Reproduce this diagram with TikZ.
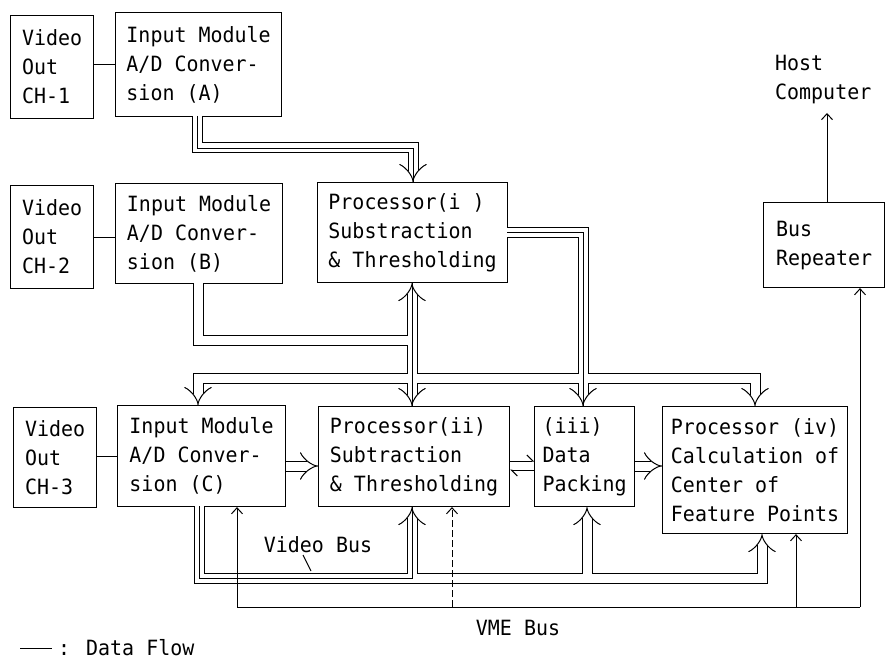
\documentclass[tikz,border=0pt]{standalone}
\usepackage{fontspec}
\newfontfamily\dfont[FakeStretch=0.95]{DejaVu Sans Mono}
\usetikzlibrary{arrows.meta}
\begin{document}
\begin{tikzpicture}[x=1pt,y=-1pt,
  box/.style={draw, line width=1.1pt, anchor=north west, align=left, inner sep=0pt,
    font=\dfont\fontsize{21}{29}\selectfont},
  lbl/.style={inner sep=0pt, align=left, font=\dfont\fontsize{21}{29}\selectfont},
  net/.style={line width=11pt, line join=miter, line cap=butt},
  netcore/.style={line width=9pt, white, line join=miter, line cap=butt},
  dtip/.style={double, double distance=9pt, line width=1pt, -{Implies}},
  harp/.style={line width=1pt, -{Straight Barb[harpoon,length=6pt,width=12pt]}},
  mid/.style={line width=0.9pt},
  sline/.style={line width=1pt},
  sarr/.style={line width=1pt, -{Straight Barb[length=6pt,width=11pt]}}
]
\useasboundingbox (0,0) rectangle (886,666);

% boxes
\node[box, minimum width=83pt, minimum height=103pt] (ch1) at (10,15) {Video\\Out\\CH-1};
\node[box, minimum width=166pt, minimum height=104pt] (inA) at (115,12) {Input Module\\A/D Conver-\\sion (A)};
\node[box, minimum width=83pt, minimum height=103pt] (ch2) at (10,185) {Video\\Out\\CH-2};
\node[box, minimum width=167pt, minimum height=100pt] (inB) at (115,183) {Input Module\\A/D Conver-\\sion (B)};
\node[box, minimum width=190pt, minimum height=100pt] (p1) at (317,182) {Processor(i )\\Substraction\\\& Thresholding};
\node[box, minimum width=121pt, minimum height=85pt] (br) at (763,202) {Bus\\Repeater};
\node[box, minimum width=83pt, minimum height=100pt] (ch3) at (13,407) {Video\\Out\\CH-3};
\node[box, minimum width=168pt, minimum height=101pt] (inC) at (117,405) {Input Module\\A/D Conver-\\sion (C)};
\node[box, minimum width=191pt, minimum height=100pt] (p2) at (318,406) {Processor(ii)\\Subtraction\\\& Thresholding};
\node[box, minimum width=100pt, minimum height=100pt] (dp) at (534,406) {(iii)\\Data\\Packing};
\node[box, minimum width=185pt, minimum height=127pt] (p4) at (662,406) {Processor (iv)\\Calculation of\\Center of\\Feature Points};

\node[lbl, anchor=north west] (host) at (775,55) {Host\\Computer};

% video out links
\draw[sline] (ch1.east |- 0,65) -- (inA.west |- 0,65);
\draw[sline] (ch2.east |- 0,237) -- (inB.west |- 0,237);
\draw[sline] (ch3.east |- 0,456) -- (inC.west |- 0,456);

% data flow networks
\newcommand\pathInA{(197,116) -- (197,148) -- (413,148) -- (413,166)}
\newcommand\pathNetA{(198,283) -- (198,340) -- (412,340) (412,298) -- (412,390) (198,390) -- (198,378) -- (755,378) -- (755,390) (507,232) -- (583,232) -- (583,390)}
\newcommand\pathNetB{(199,506) -- (199,578) -- (762,578) -- (762,549) (412,578) -- (412,522) (587,578) -- (587,522)}
\draw[net] \pathInA; \draw[netcore] \pathInA;
\draw[net] \pathNetA; \draw[netcore] \pathNetA;
\draw[net] \pathNetB; \draw[netcore] \pathNetB;

\draw[dtip] (413,166) -- (p1.north -| 413,0);
\draw[dtip] (412,298) -- (p1.south -| 412,0);
\draw[dtip] (412,390) -- (p2.north -| 412,0);
\draw[dtip] (198,390) -- (inC.north -| 198,0);
\draw[dtip] (755,390) -- (p4.north -| 755,0);
\draw[dtip] (583,390) -- (dp.north -| 583,0);
\draw[dtip] (412,522) -- (p2.south -| 412,0);
\draw[dtip] (587,522) -- (dp.south -| 587,0);
\draw[dtip] (762,549) -- (p4.south -| 762,0);

\draw[dtip] (inC.east |- 0,466) -- (p2.west |- 0,466);
\draw[harp] (p2.east |- 0,461) -- (dp.west |- 0,461);
\draw[harp] (dp.west |- 0,470) -- (p2.east |- 0,470);
\draw[dtip] (dp.east |- 0,466) -- (p4.west |- 0,466);

% middle lines
\draw[mid] (197,116) -- (197,148) -- (413,148) -- (413,182);
\draw[mid] (412,282) -- (412,406);
\draw[mid] (507,232) -- (583,232) -- (583,406);
\draw[mid] (199,506) -- (199,578) -- (412,578) -- (412,506);

% VME bus
\coordinate (v1) at (237,607);
\coordinate (v2) at (452,607);
\coordinate (v3) at (796,607);
\coordinate (v4) at (860,607);
\draw[sline] (v1) -- (v4);
\draw[sarr] (v1) -- (v1 |- inC.south);
\draw[sarr, dash pattern=on 7pt off 3pt] (v2) -- (v2 |- p2.south);
\draw[sarr] (v3) -- (v3 |- p4.south);
\draw[sarr] (v4) -- (v4 |- br.south);
\draw[sarr] (br.north -| 827,0) -- (827,113);

% labels
\node[lbl] (vb) at (318,545) {Video Bus};
\coordinate (vbl) at (311,571);
\draw[sline] (303,555) -- (vbl);
\node[lbl] (vme) at (518,628) {VME Bus};
\coordinate (lg1) at (20,648);
\coordinate (lg2) at (52,648);
\draw[sline] (lg1) -- (lg2);
\node[lbl, anchor=west] (lgt) at (58,648) {: Data Flow};
\end{tikzpicture}
\end{document}
